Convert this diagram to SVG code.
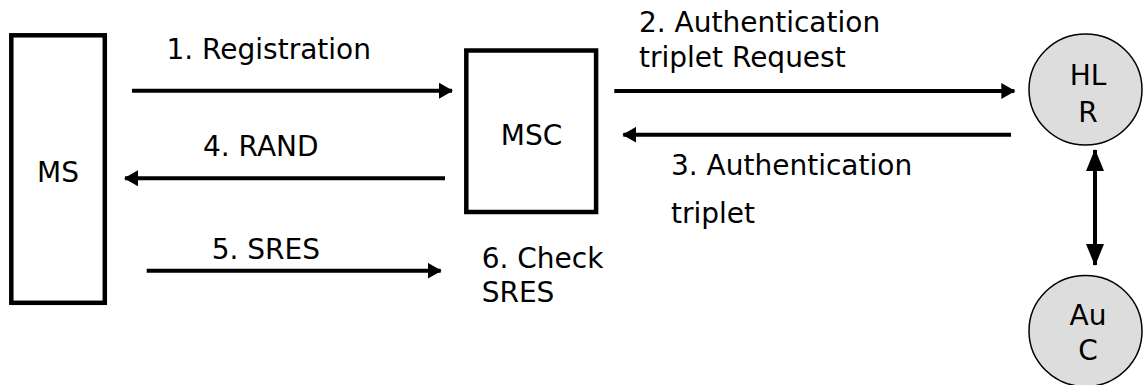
<svg xmlns="http://www.w3.org/2000/svg" width="1143" height="385" viewBox="0 0 1143 385">
  <style>
    .box { fill: #ffffff; stroke: #000000; stroke-width: 4.5; }
    .db { fill: #dddddd; stroke: #000000; stroke-width: 1.5; }
    .lbl { font-family: "DejaVu Sans", Verdana, sans-serif; font-size: 28px; fill: #000000; }
    .mid { text-anchor: middle; }
    .msg { stroke: #000000; stroke-width: 4; fill: none; }
  </style>
  <defs>
    <marker id="head" markerUnits="userSpaceOnUse" markerWidth="14" markerHeight="16" refX="13" refY="8" orient="auto">
      <path d="M0,0 L14,8 L0,16 Z" fill="#000000"/>
    </marker>
    <marker id="longHead" markerUnits="userSpaceOnUse" markerWidth="22" markerHeight="18" refX="21" refY="9" orient="auto">
      <path d="M0,0 L22,9 L0,18 Z" fill="#000000"/>
    </marker>
    <marker id="longTail" markerUnits="userSpaceOnUse" markerWidth="22" markerHeight="18" refX="1" refY="9" orient="auto">
      <path d="M22,0 L0,9 L22,18 Z" fill="#000000"/>
    </marker>
  </defs>

  <!-- Mobile station -->
  <g id="ms">
    <rect class="box" x="11.3" y="35.3" width="93.5" height="267.5"/>
    <text class="lbl mid" x="58" y="182">MS</text>
  </g>

  <!-- Mobile switching centre -->
  <g id="msc">
    <rect class="box" x="466.3" y="50.5" width="129.8" height="161.5"/>
    <text class="lbl mid" x="531.5" y="145">MSC</text>
  </g>

  <!-- Home location register -->
  <g id="hlr">
    <ellipse class="db" cx="1085.5" cy="89.5" rx="56.5" ry="55.5"/>
    <text class="lbl mid" x="1088" y="85">HL</text>
    <text class="lbl mid" x="1088" y="121.5">R</text>
  </g>

  <!-- Authentication centre -->
  <g id="auc">
    <ellipse class="db" cx="1085.5" cy="331" rx="56.5" ry="55.5"/>
    <text class="lbl mid" x="1088" y="325">Au</text>
    <text class="lbl mid" x="1088" y="360">C</text>
  </g>

  <!-- Signalling messages -->
  <g id="connectors">
    <line class="msg" x1="132" y1="90.7" x2="452" y2="90.7" marker-end="url(#head)"/>
    <line class="msg" x1="445" y1="178.3" x2="125" y2="178.3" marker-end="url(#head)"/>
    <line class="msg" x1="146.7" y1="270.7" x2="440.7" y2="270.7" marker-end="url(#head)"/>
    <line class="msg" x1="614.3" y1="91" x2="1014.3" y2="91" marker-end="url(#head)"/>
    <line class="msg" x1="1011" y1="134.7" x2="623.3" y2="134.7" marker-end="url(#head)"/>
    <line class="msg" x1="1095" y1="150" x2="1095" y2="265" marker-start="url(#longTail)" marker-end="url(#longHead)"/>
  </g>

  <!-- Message labels -->
  <g id="labels">
    <text class="lbl" x="166.5" y="59.3">1. Registration</text>
    <text class="lbl" x="639" y="31.7">2. Authentication</text>
    <text class="lbl" x="639" y="66.7">triplet Request</text>
    <text class="lbl" x="671" y="175">3. Authentication</text>
    <text class="lbl" x="671" y="223.3">triplet</text>
    <text class="lbl" x="203" y="156">4. RAND</text>
    <text class="lbl" x="211.7" y="259.3">5. SRES</text>
    <text class="lbl" x="481.7" y="268.3">6. Check</text>
    <text class="lbl" x="481.7" y="301.7">SRES</text>
  </g>
</svg>
